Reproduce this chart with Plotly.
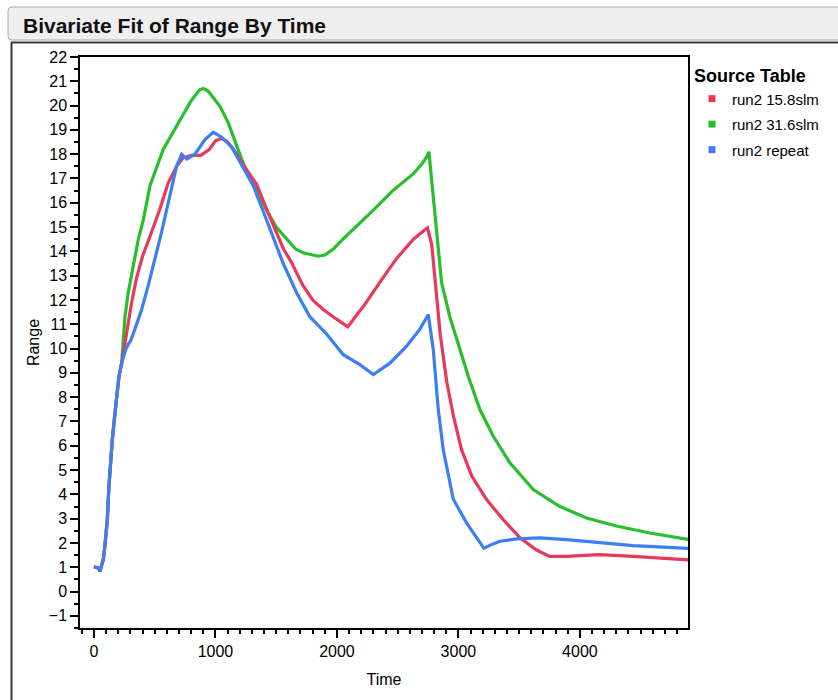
import plotly.graph_objects as go

# ---------------- data ----------------
common_t = [0, 35, 50, 77, 91, 110, 123, 137, 151, 173, 189, 206, 228]
common_v = [1.02, 0.97, 0.84, 1.32, 1.93, 2.96, 4.33, 5.43, 6.25, 7.35, 8.04, 8.86, 9.4]

red_t = common_t + [245, 270, 310, 350, 400, 460, 540, 610, 680, 735, 800, 880, 950, 1000,
                    1050, 1100, 1170, 1250, 1340, 1420, 1490, 1560, 1620, 1720, 1800, 1890,
                    2000, 2090, 2150, 2220, 2350, 2490, 2630, 2745, 2780, 2810, 2850, 2905,
                    2960, 3025, 3110, 3230, 3370, 3510, 3640, 3750, 3890, 4160, 4440, 4890]
red_v = common_v + [9.9, 10.8, 11.9, 12.9, 13.8, 14.6, 15.7, 16.8, 17.5, 17.85, 17.95, 17.95,
                    18.2, 18.55, 18.65, 18.5, 18.05, 17.4, 16.75, 15.75, 14.9, 14.1, 13.6,
                    12.6, 12.0, 11.6, 11.2, 10.9, 11.3, 11.75, 12.7, 13.7, 14.5, 14.97, 14.3,
                    12.7, 10.6, 8.6, 7.2, 5.85, 4.75, 3.8, 2.95, 2.2, 1.72, 1.45, 1.45, 1.52,
                    1.45, 1.3]

green_t = common_t + [255, 282, 324, 365, 406, 461, 570, 708, 800, 870, 900, 940, 1037, 1105,
                      1150, 1230, 1300, 1340, 1420, 1500, 1586, 1660, 1723, 1846, 1900, 1970,
                      2050, 2134, 2300, 2460, 2630, 2700, 2740, 2757, 2770, 2793, 2820, 2862,
                      2930, 2985, 3081, 3177, 3287, 3424, 3616, 3835, 4055, 4300, 4576, 4890]
green_v = common_v + [11.3, 12.3, 13.5, 14.5, 15.3, 16.7, 18.2, 19.4, 20.2, 20.65, 20.7, 20.6,
                      19.97, 19.3, 18.7, 17.6, 16.9, 16.5, 15.7, 15.0, 14.5, 14.1, 13.94, 13.8,
                      13.85, 14.1, 14.5, 14.9, 15.7, 16.5, 17.2, 17.6, 17.9, 18.1, 17.4, 16.1,
                      14.8, 12.7, 11.3, 10.4, 8.86, 7.49, 6.39, 5.3, 4.2, 3.5, 3.03, 2.7, 2.41,
                      2.15]

blue_t = common_t + [260, 285, 300, 337, 392, 447, 502, 557, 625, 680, 722, 763, 831, 914, 982,
                     1051, 1133, 1210, 1311, 1393, 1476, 1558, 1668, 1778, 1915, 2052, 2189,
                     2300, 2436, 2573, 2683, 2752, 2793, 2834, 2875, 2958, 3067, 3150, 3210,
                     3280, 3342, 3479, 3671, 3890, 4165, 4440, 4890]
blue_v = common_v + [9.95, 10.2, 10.3, 10.8, 11.6, 12.6, 13.7, 14.8, 16.3, 17.5, 18.0, 17.8,
                     18.0, 18.6, 18.9, 18.7, 18.3, 17.6, 16.7, 15.65, 14.6, 13.5, 12.3, 11.3,
                     10.6, 9.75, 9.34, 8.93, 9.4, 10.1, 10.8, 11.4, 9.96, 7.5, 5.84, 3.8, 2.83,
                     2.2, 1.78, 1.95, 2.07, 2.17, 2.21, 2.14, 2.0, 1.89, 1.78]

series_names = ["run2 15.8slm", "run2 31.6slm", "run2 repeat"]
series_t = [red_t, green_t, blue_t]
series_v = [red_v, green_v, blue_v]
series_colors = ["#e8385c", "#27bf2b", "#3c7ff2"]

x_ticks = [0, 1000, 2000, 3000, 4000]
y_ticks = list(range(-1, 23))

# ---------------- layout geometry ----------------
W, H = 838, 700
ML, MR, MT, MB = 80, 150, 57, 72
PW, PH = W - ML - MR, H - MT - MB


def px(x):
    return (x - ML) / PW


def py(y):
    return (H - MB - y) / PH


FONT = "Arial, Liberation Sans, sans-serif"

fig = go.Figure()

# drawing order: green under, then red, then blue on top (as in reference)
for i in [1, 0, 2]:
    fig.add_trace(go.Scatter(
        x=series_t[i], y=series_v[i], mode="lines",
        line=dict(color=series_colors[i], width=3.2),
        showlegend=False, hoverinfo="x+y", name=series_names[i],
    ))

# legend entries (square swatches)
for i in range(3):
    fig.add_trace(go.Scatter(
        x=[None], y=[None], mode="markers", name=series_names[i],
        legendgroup=series_names[i],
        marker=dict(symbol="square", size=7, color=series_colors[i]),
    ))

# header bar with rounded corners
x0, x1, y0, y1, r = px(8), px(850), py(7), py(40), 4
rx, ry = r / PW, r / PH
path = (f"M {x0+rx},{y0} L {x1},{y0} L {x1},{y1} L {x0+rx},{y1} "
        f"Q {x0},{y1} {x0},{y1+ry} L {x0},{y0-ry} Q {x0},{y0} {x0+rx},{y0} Z")
fig.add_shape(type="path", path=path, xref="paper", yref="paper",
              fillcolor="#efefef", line=dict(color="#a8a8a8", width=1), layer="below")

# outer dark frame (top + left)
fig.add_shape(type="line", xref="paper", yref="paper",
              x0=px(11), x1=px(850), y0=py(42.5), y1=py(42.5),
              line=dict(color="#3a3a3a", width=2))
fig.add_shape(type="line", xref="paper", yref="paper",
              x0=px(11.5), x1=px(11.5), y0=py(42), y1=py(710),
              line=dict(color="#3a3a3a", width=2))

fig.add_annotation(text="<b>Bivariate Fit of Range By Time</b>", xref="paper", yref="paper",
                   x=px(21), y=py(25), xanchor="left", yanchor="middle", showarrow=False,
                   font=dict(family=FONT, size=21, color="#111111"))

fig.update_layout(
    width=W, height=H,
    margin=dict(l=ML, r=MR, t=MT, b=MB, autoexpand=False),
    paper_bgcolor="white", plot_bgcolor="white",
    font=dict(family=FONT, size=16, color="black"),
    legend=dict(
        title=dict(text="<b>Source Table</b>", font=dict(family=FONT, size=18, color="black")),
        x=px(692), y=py(59), xanchor="left", yanchor="top",
        font=dict(family=FONT, size=15, color="black"),
        traceorder="grouped", tracegroupgap=3,
        bgcolor="rgba(0,0,0,0)", itemwidth=30,
    ),
    xaxis=dict(
        range=[-115, 4890], tickmode="array", tickvals=x_ticks,
        ticks="outside", ticklen=8, tickwidth=1.5, tickcolor="black",
        showline=True, linecolor="black", linewidth=1.5, mirror=True,
        showgrid=False, zeroline=False,
        minor=dict(dtick=100, tick0=0, ticks="outside", ticklen=4, tickwidth=1.5, tickcolor="black"),
        tickfont=dict(family=FONT, size=16, color="black"),
        title=dict(text="Time", standoff=15, font=dict(family=FONT, size=16, color="black")),
    ),
    yaxis=dict(
        range=[-1.5, 22], tickmode="array", tickvals=y_ticks,
        ticks="outside", ticklen=8, tickwidth=1.5, tickcolor="black",
        showline=True, linecolor="black", linewidth=1.5, mirror=True,
        showgrid=False, zeroline=False,
        minor=dict(dtick=0.5, tick0=0, ticks="outside", ticklen=4, tickwidth=1.5, tickcolor="black"),
        tickfont=dict(family=FONT, size=16, color="black"),
        title=dict(text="Range", standoff=5, font=dict(family=FONT, size=16, color="black")),
    ),
)

fig.write_html("out.html")
